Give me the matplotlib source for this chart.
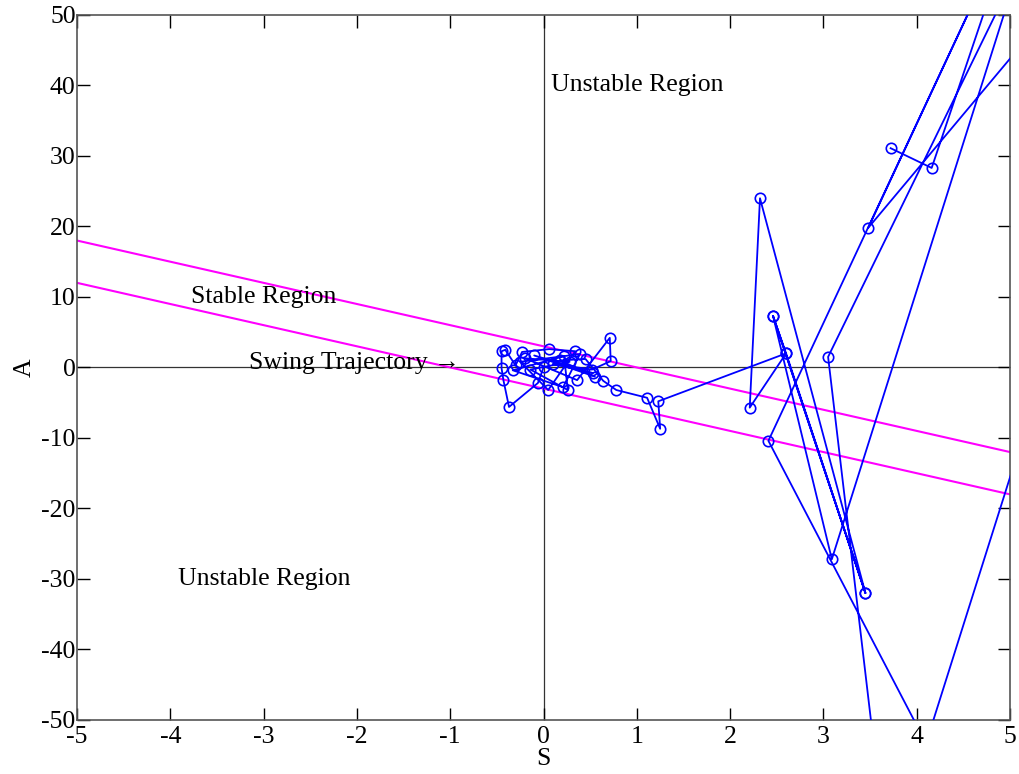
import matplotlib.pyplot as plt

plt.rcParams['font.family'] = ['Liberation Serif', 'DejaVu Serif']
plt.rcParams['axes.unicode_minus'] = False

# swing trajectory in the S-A plane (points beyond the axes are kept, clipped by the axes)
traj_s = [0.00, -0.06, -0.37, -0.43, -0.45, -0.45, -0.41, -0.30, -0.23, 0.06,
          0.34, 0.05, -0.25, 0.39, 0.21, -0.33, 0.22, 0.26, -0.14, 0.28,
          -0.20, 0.36, 0.71, 0.72, 0.52, 0.10, 0.53, -0.10, 0.55, 0.18,
          0.45, 0.64, 0.78, 1.11, 1.25, 1.23, 2.60, 2.21, 2.32, 3.45,
          2.60, 2.46, 3.45, 2.46, 3.09, 5.10, 3.05, 3.58, 4.10, 2.41,
          4.65, 3.48, 5.50, 5.30, 4.10, 6.00, 6.00, 4.84, 4.16, 3.72]
traj_a = [0.0, -2.2, -5.6, -1.8, -0.1, 2.3, 2.5, 0.3, 2.2, 2.6,
          2.3, -3.2, 0.8, 1.9, -2.8, -0.4, 1.6, -3.2, -0.3, 0.8,
          1.3, -1.8, 4.2, 0.9, -0.3, 0.5, -0.8, 1.7, -1.3, 1.0,
          1.2, -1.9, -3.2, -4.3, -8.7, -4.8, 2.0, -5.7, 24.0, -32.0,
          2.0, 7.3, -32.0, 7.3, -27.2, 57.0, 1.5, -58.0, -53.3, -10.4,
          53.0, 19.8, 51.7, -3.0, -53.3, -60.0, 60.0, 55.0, 28.3, 31.1]

# stability boundaries
bound_s = [-5, 5]
bound_upper = [18, -12]
bound_lower = [12, -18]

fig = plt.figure(figsize=(10.19, 7.74), dpi=100)
ax = fig.add_axes([0.0756, 0.0698, 0.9156, 0.9109])

ax.axhline(0, color='#333333', linewidth=0.9, zorder=1)
ax.axvline(0, color='#333333', linewidth=0.9, zorder=1)

ax.plot(bound_s, bound_upper, color='#ff00ff', linewidth=1.5, zorder=2)
ax.plot(bound_s, bound_lower, color='#ff00ff', linewidth=1.5, zorder=2)

ax.plot(traj_s, traj_a, color='#0000ff', linewidth=1.3, marker='o',
        markersize=7.5, markerfacecolor='none', markeredgecolor='#0000ff',
        markeredgewidth=1.2, zorder=3)

fs = 18.5
ax.text(0.08, 40, 'Unstable Region', fontsize=fs, va='center', ha='left')
ax.text(-3.78, 10, 'Stable Region', fontsize=fs, va='center', ha='left')
ax.text(-3.16, 0.6, 'Swing Trajectory \u2192', fontsize=fs, va='center', ha='left')
ax.text(-3.92, -30, 'Unstable Region', fontsize=fs, va='center', ha='left')

ax.set_xlim(-5, 5)
ax.set_ylim(-50, 50)
ax.set_xticks(range(-5, 6))
ax.set_yticks(range(-50, 51, 10))
ax.set_xlabel('S', fontsize=fs, labelpad=0)
ax.set_ylabel('A', fontsize=fs, labelpad=4)
ax.tick_params(direction='in', length=9, width=1, labelsize=fs,
               top=True, right=True)
ax.tick_params(axis='x', pad=4)
ax.tick_params(axis='y', pad=1)
for sp in ax.spines.values():
    sp.set_color('#555555')
    sp.set_linewidth(1.2)

fig.savefig('out.png', dpi=100)
